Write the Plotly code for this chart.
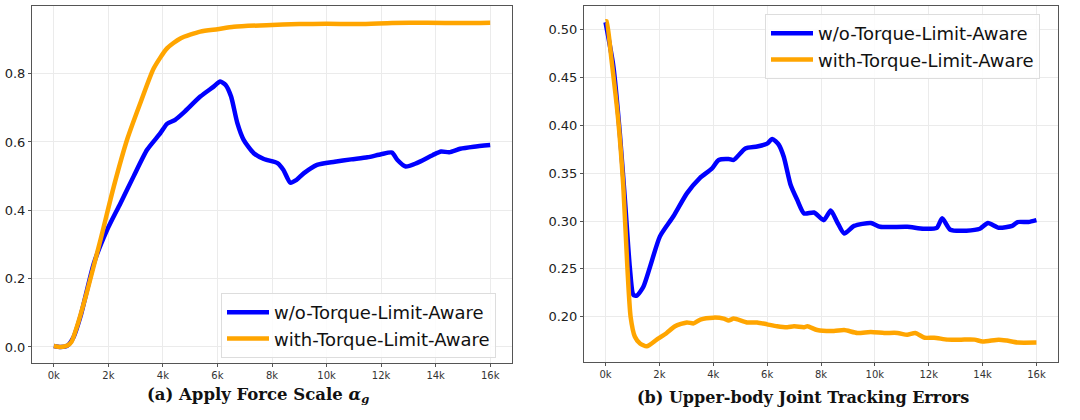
import plotly.graph_objects as go

# ---- Data ----
# Panel (a): Apply Force Scale
a_wo_x = [0, 250, 500, 730, 980, 1470, 1950, 2440, 2930, 3420, 3900, 4150, 4450, 4760, 5370, 5860,
          6100, 6300, 6500, 6730, 6960, 7330, 7700, 8200, 8420, 8670, 8900, 9160, 9650, 10300, 10900,
          11500, 12000, 12400, 12600, 12900, 13300, 13900, 14200, 14500, 14900, 15400, 16000]
a_wo_y = [0.003, 0.0, 0.004, 0.03, 0.09, 0.245, 0.342, 0.42, 0.50, 0.577, 0.625, 0.653, 0.665, 0.686,
          0.733, 0.762, 0.777, 0.767, 0.733, 0.655, 0.606, 0.567, 0.55, 0.538, 0.518, 0.481, 0.489,
          0.508, 0.533, 0.542, 0.549, 0.555, 0.564, 0.569, 0.547, 0.528, 0.538, 0.562, 0.572, 0.570,
          0.580, 0.586, 0.591]
a_w_x = [0, 250, 500, 650, 850, 1200, 1700, 2200, 2700, 3200, 3660, 4150, 4640, 5370, 6000, 6600,
         7800, 9000, 10000, 11200, 12400, 13700, 15000, 16000]
a_w_y = [0.003, 0.0, 0.004, 0.015, 0.06, 0.157, 0.31, 0.47, 0.61, 0.72, 0.815, 0.874, 0.903, 0.923,
         0.930, 0.937, 0.942, 0.945, 0.946, 0.945, 0.948, 0.949, 0.948, 0.949]

# Panel (b): Upper-body Joint Tracking Errors
b_wo_x = [0, 290, 530, 720, 900, 1030, 1160, 1400, 1650, 2020, 2520, 3020, 3500, 3950, 4200, 4570,
          4760, 5190, 5630, 6000, 6190, 6430, 6620, 6870, 7120, 7370, 7740, 8100, 8360, 8600, 8860,
          9230, 9850, 10200, 11200, 11800, 12300, 12500, 12800, 13400, 13900, 14200, 14600, 15100,
          15300, 15700, 16000]
b_wo_y = [0.508, 0.462, 0.392, 0.322, 0.252, 0.223, 0.222, 0.231, 0.252, 0.284, 0.305, 0.329, 0.345,
          0.355, 0.364, 0.365, 0.364, 0.376, 0.378, 0.381, 0.386, 0.380, 0.367, 0.338, 0.322, 0.308,
          0.309, 0.301, 0.311, 0.299, 0.287, 0.295, 0.298, 0.294, 0.294, 0.292, 0.293, 0.303, 0.291,
          0.290, 0.292, 0.298, 0.293, 0.295, 0.299, 0.299, 0.301]
b_w_x = [0, 40, 220, 470, 660, 810, 930, 1090, 1280, 1530, 1900, 2270, 2580, 3020, 3270, 3520, 4010,
         4390, 4570, 4760, 5250, 5630, 6000, 6370, 6750, 7000, 7370, 7500, 7860, 8480, 8860, 9350,
         9850, 10350, 10840, 11200, 11500, 11850, 12200, 12700, 13200, 13700, 14000, 14600, 14900,
         15300, 16000]
b_w_y = [0.509, 0.509, 0.469, 0.406, 0.336, 0.252, 0.200, 0.179, 0.172, 0.169, 0.176, 0.183, 0.190,
         0.194, 0.193, 0.197, 0.199, 0.198, 0.196, 0.198, 0.194, 0.194, 0.192, 0.190, 0.189, 0.190,
         0.189, 0.190, 0.186, 0.185, 0.186, 0.183, 0.184, 0.183, 0.183, 0.181, 0.183, 0.178, 0.178,
         0.176, 0.176, 0.176, 0.174, 0.176, 0.175, 0.173, 0.173]

series_names = ["w/o-Torque-Limit-Aware", "with-Torque-Limit-Aware"]
x_tickvals = [0, 2000, 4000, 6000, 8000, 10000, 12000, 14000, 16000]
x_ticktext = ["0k", "2k", "4k", "6k", "8k", "10k", "12k", "14k", "16k"]
a_ytick = [0.0, 0.2, 0.4, 0.6, 0.8]
b_ytick = [0.20, 0.25, 0.30, 0.35, 0.40, 0.45, 0.50]
titles = ["<b>(a) Apply Force Scale <i>α</i><sub><i>g</i></sub></b>",
          "<b>(b) Upper-body Joint Tracking Errors</b>"]

BLUE = "#0000ff"
ORANGE = "#ffa500"
W, H = 1080, 420

fig = go.Figure()

def add(x, y, name, color, xa, ya, legend):
    fig.add_trace(go.Scatter(x=x, y=y, mode="lines", name=name, xaxis=xa, yaxis=ya,
                             line=dict(color=color, width=4.5, shape="spline", smoothing=0.6),
                             legend=legend))

add(a_wo_x, a_wo_y, series_names[0], BLUE, "x", "y", "legend")
add(a_w_x, a_w_y, series_names[1], ORANGE, "x", "y", "legend")
add(b_wo_x, b_wo_y, series_names[0], BLUE, "x2", "y2", "legend2")
add(b_w_x, b_w_y, series_names[1], ORANGE, "x2", "y2", "legend2")

axis_common = dict(showline=True, linecolor="#555555", linewidth=1, mirror=True,
                   showgrid=True, gridcolor="#ebebeb", gridwidth=1, zeroline=False,
                   ticks="outside", ticklen=3, tickcolor="#555555", automargin=False)

xfont = dict(family="DejaVu Sans", size=10, color="#333333")
yfont = dict(family="DejaVu Sans", size=13, color="#222222")

legend_common = dict(font=dict(family="DejaVu Sans", size=18, color="#111111"),
                     bgcolor="rgba(255,255,255,0.85)", bordercolor="#dddddd", borderwidth=1,
                     xanchor="left", yanchor="top", itemwidth=42, tracegroupgap=0)

fig.update_layout(
    width=W, height=H,
    margin=dict(l=0, r=0, t=0, b=0),
    paper_bgcolor="white", plot_bgcolor="white",
    xaxis=dict(domain=[32 / W, 512 / W], range=[-800, 16800], tickvals=x_tickvals,
               ticktext=x_ticktext, tickfont=xfont, anchor="y", **axis_common),
    yaxis=dict(domain=[1 - 363 / H, 1 - 6 / H], range=[-0.047, 0.998], tickvals=a_ytick,
               tickformat=".1f", tickfont=yfont, anchor="x", **axis_common),
    xaxis2=dict(domain=[584 / W, 1058 / W], range=[-800, 16800], tickvals=x_tickvals,
                ticktext=x_ticktext, tickfont=xfont, anchor="y2", **axis_common),
    yaxis2=dict(domain=[1 - 362 / H, 1 - 6 / H], range=[0.1526, 0.525], tickvals=b_ytick,
                tickformat=".2f", tickfont=yfont, anchor="x2", **axis_common),
    legend=dict(x=221 / W, y=1 - 293 / H, **legend_common),
    legend2=dict(x=765 / W, y=1 - 14 / H, **legend_common),
    annotations=[
        dict(text=titles[0], x=258 / W, y=1 - 395 / H, xref="paper", yref="paper",
             showarrow=False, xanchor="center", yanchor="middle",
             font=dict(family="DejaVu Serif", size=16.5, color="#111111")),
        dict(text=titles[1], x=803 / W, y=1 - 397 / H, xref="paper", yref="paper",
             showarrow=False, xanchor="center", yanchor="middle",
             font=dict(family="DejaVu Serif", size=16, color="#111111")),
    ],
)

fig.write_html("out.html", config={"displayModeBar": False},
               post_script="document.body.style.margin='0px';")
